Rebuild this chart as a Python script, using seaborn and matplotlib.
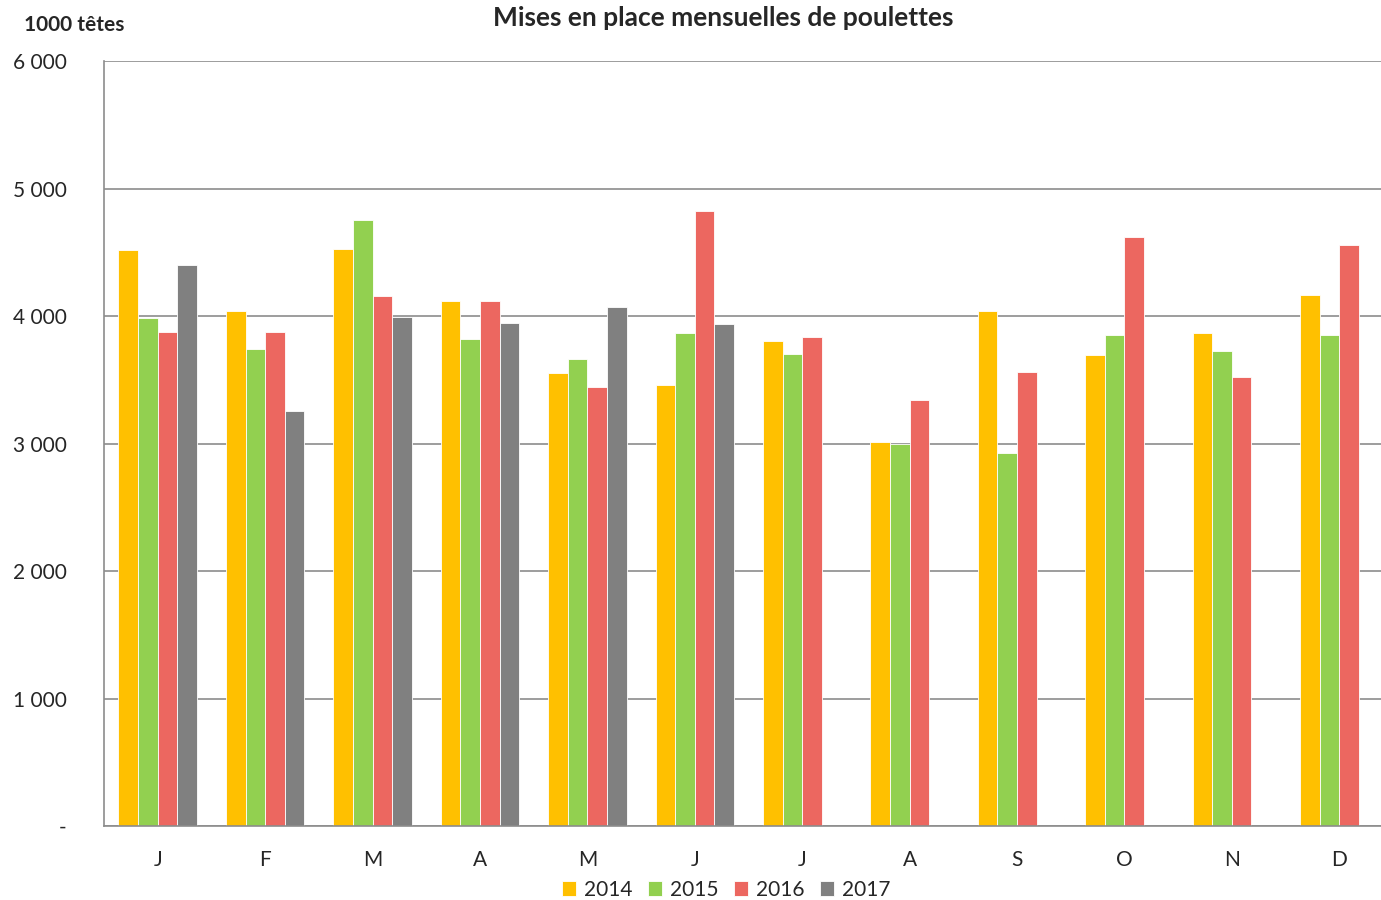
import numpy as np
import pandas as pd
import matplotlib
import matplotlib.pyplot as plt
import seaborn as sns
from matplotlib.ticker import FuncFormatter, FixedLocator

matplotlib.use('Agg')

months = ['J', 'F', 'M', 'A', 'M', 'J', 'J', 'A', 'S', 'O', 'N', 'D']
years = ['2014', '2015', '2016', '2017']
v2014 = [4518, 4039, 4525, 4118, 3553, 3459, 3804, 3012, 4039, 3694, 3867, 4165]
v2015 = [3984, 3741, 4753, 3820, 3663, 3867, 3702, 2996, 2925, 3851, 3725, 3851]
v2016 = [3875, 3875, 4157, 4118, 3443, 4824, 3835, 3341, 3561, 4620, 3522, 4557]
v2017 = [4400, 3255, 3992, 3945, 4071, 3937, np.nan, np.nan, np.nan, np.nan, np.nan, np.nan]
colors = ['#FFC000', '#92D050', '#EC6760', '#808080']

rows = []
for yr, vals in zip(years, [v2014, v2015, v2016, v2017]):
    for i, v in enumerate(vals):
        rows.append({'mois': i, 'annee': yr, 'valeur': v})
df = pd.DataFrame(rows)

sns.set_style('white')
plt.rcParams['font.family'] = ['Lato', 'DejaVu Sans']

fig = plt.figure(figsize=(13.81, 9), dpi=100)
# plot area runs slightly past the right edge, as in the original export
ax = fig.add_axes([0.0753, 0.0822, 0.9334, 0.8500])

sns.barplot(data=df, x='mois', y='valeur', hue='annee', order=list(range(12)),
            hue_order=years, palette=colors, saturation=1, width=0.73, gap=0,
            edgecolor='white', linewidth=0.6, errorbar=None, ax=ax, legend=True)

ax.set_ylim(0, 6000)
ax.set_xlim(-0.5, 11.5)
ax.set_yticks(range(0, 6001, 1000))
ax.yaxis.set_major_formatter(FuncFormatter(
    lambda v, p: '-' if v == 0 else f'{int(v):,}'.replace(',', ' ')))
ax.grid(axis='y', color='#8c8c8c', linewidth=1.2)
ax.set_axisbelow(True)

ax.set_xticks(range(12))
ax.set_xticklabels(months)
ax.xaxis.set_minor_locator(FixedLocator(np.arange(-0.5, 12, 1)))
ax.tick_params(axis='x', which='major', length=0, pad=17, labelsize=15)
ax.tick_params(axis='x', which='minor', length=5, width=1.2, color='#8c8c8c',
               direction='out')
ax.tick_params(axis='y', length=5, width=1.2, color='#8c8c8c', direction='out',
               labelsize=15, pad=22)

for s in ['top', 'right']:
    ax.spines[s].set_visible(False)
for s in ['left', 'bottom']:
    ax.spines[s].set_color('#8c8c8c')
    ax.spines[s].set_linewidth(1.2)

ax.set_xlabel('')
ax.set_ylabel('')

ax.legend(loc='center', bbox_to_anchor=(0.4826, -0.0837), ncol=4, frameon=False,
          borderaxespad=0, fontsize=15, handlelength=0.7, handleheight=0.7,
          handletextpad=0.35, columnspacing=0.75)

fig.text(0.5235, 0.98, 'Mises en place mensuelles de poulettes', ha='center', va='center',
         fontsize=19, fontweight='bold')
fig.text(0.0536, 0.972, '1000 têtes', ha='center', va='center', fontsize=15,
         fontweight='bold')

fig.savefig('out.png', dpi=100)
